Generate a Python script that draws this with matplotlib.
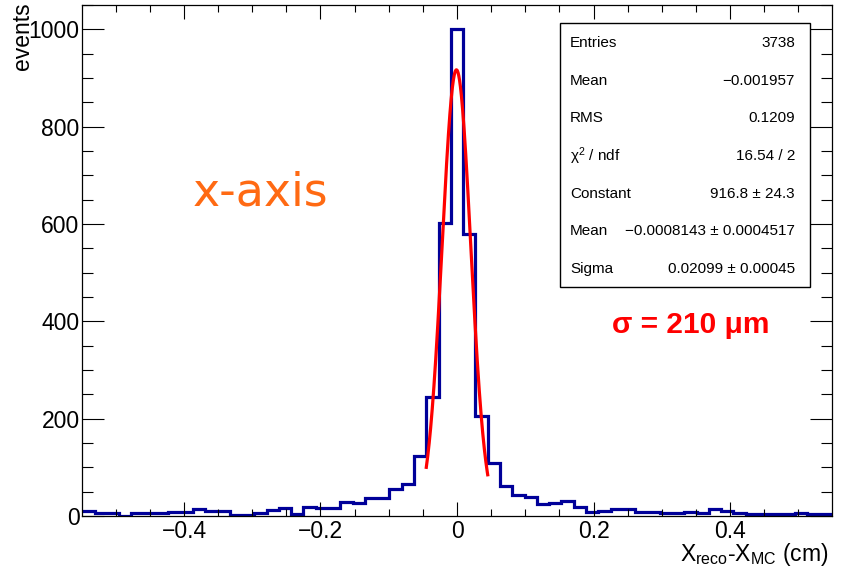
import numpy as np
import matplotlib
matplotlib.use("Agg")
import matplotlib.pyplot as plt
from matplotlib.patches import Rectangle

plt.rcParams["font.family"] = ["Liberation Sans", "DejaVu Sans"]
plt.rcParams["mathtext.fontset"] = "custom"
plt.rcParams["mathtext.rm"] = "Liberation Sans"
plt.rcParams["mathtext.it"] = "Liberation Sans:italic"

# histogram: 61 bins between -0.549 and 0.549 (bin counts)
x_lo, x_hi, n_bins = -0.549, 0.549, 61
counts = [
    11, 6, 6, 1, 7, 7, 7, 8, 8, 14,
    11, 10, 3, 3, 7, 12, 16, 5, 18, 17,
    17, 29, 26, 38, 38, 56, 65, 124, 245, 603,
    1000,
    580, 205, 109, 62, 43, 39, 25, 27, 30, 19,
    8, 10, 15, 14, 9, 8, 7, 7, 9, 7,
    14, 10, 7, 5, 5, 5, 4, 7, 5, 5,
]

# gaussian fit parameters
fit_const = 916.8
fit_mean = -0.0008143
fit_sigma = 0.02099
fit_range = (-0.045, 0.045)

stat_names = ["Entries", "Mean", "RMS", "\u03c7$^{2}$ / ndf", "Constant", "Mean", "Sigma"]
stat_values = ["3738", "\u22120.001957", "0.1209", "16.54 / 2", "916.8 \u00b1 24.3",
               "\u22120.0008143 \u00b1 0.0004517", "0.02099 \u00b1 0.00045"]

fig = plt.figure(figsize=(8.44, 5.70), dpi=100)
ax = fig.add_axes([82.3 / 844, 1 - 516 / 570, (831.7 - 82.3) / 844, (516 - 5) / 570])

edges = np.linspace(x_lo, x_hi, n_bins + 1)
ax.stairs(counts, edges, baseline=None, color="#000099", linewidth=2.3)

xf = np.linspace(fit_range[0], fit_range[1], 300)
yf = fit_const * np.exp(-0.5 * ((xf - fit_mean) / fit_sigma) ** 2)
ax.plot(xf, yf, color="#ff0000", linewidth=2.3)

ax.set_xlim(x_lo, x_hi)
ax.set_ylim(0, 1050)
ax.set_xticks([-0.4, -0.2, 0, 0.2, 0.4])
ax.set_xticks(np.arange(-0.5, 0.55, 0.05), minor=True)
ax.set_yticks([0, 200, 400, 600, 800, 1000])
ax.set_yticks(np.arange(0, 1051, 50), minor=True)
ax.set_xticklabels(["\u22120.4", "\u22120.2", "0", "0.2", "0.4"])
ax.tick_params(which="both", direction="in", top=True, right=True, width=0.8,
               labelsize=16.5, pad=3)
ax.tick_params(axis="x", which="major", length=10)
ax.tick_params(axis="x", which="minor", length=5)
ax.tick_params(axis="y", which="major", length=16)
ax.tick_params(axis="y", which="minor", length=8)
ax.tick_params(axis="y", pad=2)
for s in ax.spines.values():
    s.set_linewidth(0.9)

fig.text(22 / 844, 1 - 2 / 570, "events", rotation=90, ha="center", va="top", fontsize=16.5)
fig.text(829 / 844, 1 - 555 / 570, r"X$_{\rm reco}$-X$_{\rm MC}$ (cm)", ha="right",
         va="center", fontsize=16.5)

fig.text(193 / 844, 1 - 193 / 570, "x-axis", color="#ff6a13", fontsize=33,
         family="DejaVu Sans", ha="left", va="center")
fig.text(612 / 844, 1 - 325 / 570, "\u03c3 = 210 \u03bcm", color="#ff0000", fontsize=21.5,
         fontweight="bold", ha="left", va="center")

# stats box
bx0, bx1, by0, by1 = 560, 810, 23, 287
fig.patches.append(Rectangle((bx0 / 844, 1 - by1 / 570), (bx1 - bx0) / 844, (by1 - by0) / 570,
                             transform=fig.transFigure, facecolor="white",
                             edgecolor="black", linewidth=1.0, zorder=5))
row_h = (by1 - by0) / len(stat_names)
for i, (name, val) in enumerate(zip(stat_names, stat_values)):
    yc = 1 - (by0 + (i + 0.5) * row_h + 1) / 570
    fig.text(570 / 844, yc, name, ha="left", va="center", fontsize=11, zorder=6)
    fig.text(795 / 844, yc, val, ha="right", va="center", fontsize=11, zorder=6)

fig.savefig("out.png", dpi=100)
